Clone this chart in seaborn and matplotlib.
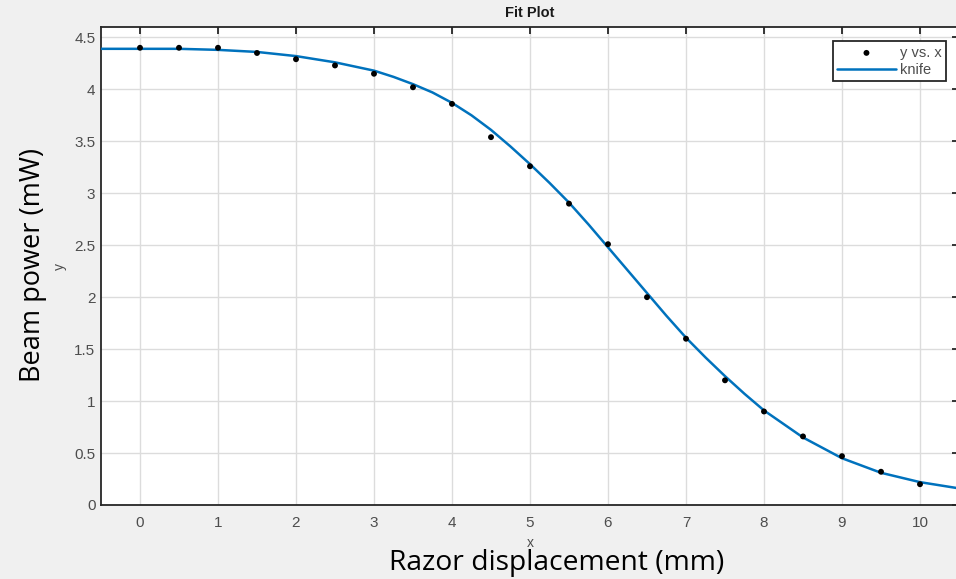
import matplotlib
matplotlib.use("Agg")
import matplotlib.pyplot as plt
import seaborn as sns
import pandas as pd

# Measured data (y vs. x)
x_data = [0, 0.5, 1, 1.5, 2, 2.5, 3, 3.5, 4, 4.5, 5, 5.5, 6, 6.5, 7, 7.5, 8, 8.5, 9, 9.5, 10]
y_data = [4.40, 4.40, 4.40, 4.35, 4.29, 4.23, 4.15, 4.02, 3.86, 3.54, 3.26, 2.90, 2.51,
          2.00, 1.60, 1.20, 0.90, 0.66, 0.47, 0.32, 0.20]

# Fitted "knife" curve
x_fit = [-0.5, 0, 0.5, 1, 1.5, 2, 2.5, 3, 3.25, 3.5, 3.75, 4, 4.25, 4.5, 4.75, 5, 5.25,
         5.5, 5.75, 6, 6.25, 6.5, 6.75, 7, 7.25, 7.5, 7.75, 8, 8.5, 9, 9.5, 10, 10.5]
y_fit = [4.39, 4.39, 4.39, 4.38, 4.36, 4.32, 4.26, 4.18, 4.12, 4.05, 3.97, 3.87, 3.75,
         3.61, 3.45, 3.28, 3.10, 2.91, 2.70, 2.48, 2.26, 2.04, 1.82, 1.61, 1.42, 1.24,
         1.07, 0.91, 0.65, 0.45, 0.31, 0.22, 0.16]

x_ticks = [0, 1, 2, 3, 4, 5, 6, 7, 8, 9, 10]
y_ticks = [0, 0.5, 1, 1.5, 2, 2.5, 3, 3.5, 4, 4.5]
y_ticklabels = ["0", "0.5", "1", "1.5", "2", "2.5", "3", "3.5", "4", "4.5"]

sns.set_style("white")
plt.rcParams["font.family"] = ["Liberation Sans", "DejaVu Sans"]

W, H = 956, 579
fig = plt.figure(figsize=(W / 100, H / 100), dpi=100, facecolor="#F0F0F0")
ax = fig.add_axes([101 / W, (H - 505) / H, 858 / W, 478 / H])
ax.set_facecolor("white")

df_pts = pd.DataFrame({"x": x_data, "y": y_data})
df_fit = pd.DataFrame({"x": x_fit, "y": y_fit})

sns.lineplot(data=df_fit, x="x", y="y", ax=ax, color="#0072BD", linewidth=1.8,
             label="knife", zorder=3)
sns.scatterplot(data=df_pts, x="x", y="y", ax=ax, color="black", s=18, edgecolor="none",
                label="y vs. x", zorder=4)

ax.set_xlim(-0.5, 10.5)
ax.set_ylim(0, 4.6)
ax.set_xticks(x_ticks)
ax.set_yticks(y_ticks)
ax.set_yticklabels(y_ticklabels)

ax.grid(True, color="#DCDCDC", linewidth=1.0)
ax.set_axisbelow(True)
for s in ax.spines.values():
    s.set_visible(True)
    s.set_color("#262626")
    s.set_linewidth(1.3)

ax.tick_params(axis="both", direction="in", length=5, width=1.3, color="#262626",
               top=True, right=True, labelsize=11, labelcolor="#4D4D4D")
ax.tick_params(axis="x", pad=8)
ax.tick_params(axis="y", pad=4)

ax.set_xlabel("x", fontsize=10, color="#4D4D4D", labelpad=4)
ax.set_ylabel("y", fontsize=10, color="#4D4D4D", labelpad=5)
ax.set_title("Fit Plot", fontsize=10.5, fontweight="bold", color="#1A1A1A", pad=7)

# Legend: dot first, line second
handles, labels = ax.get_legend_handles_labels()
order = [labels.index("y vs. x"), labels.index("knife")]
leg = ax.legend([handles[i] for i in order], [labels[i] for i in order],
                loc="upper right", bbox_to_anchor=(0.985, 0.97), fontsize=10.5,
                frameon=True, fancybox=False, framealpha=1, edgecolor="#262626",
                borderpad=0.3, labelspacing=0.2, handlelength=4.0, handletextpad=0.3,
                borderaxespad=0)
leg.get_frame().set_linewidth(1.3)
for t in leg.get_texts():
    t.set_color("#4D4D4D")

# Overlay labels
fig.text(33 / W, 1 - 265 / H, "Beam power (mW)", rotation=90, ha="center", va="center",
         fontsize=19.5, family=["Open Sans", "DejaVu Sans"], color="black")
fig.text(557 / W, 1 - 563 / H, "Razor displacement (mm)", ha="center", va="center",
         fontsize=20.3, family=["Open Sans", "DejaVu Sans"], color="black")

fig.savefig("out.png", dpi=100, facecolor=fig.get_facecolor())
